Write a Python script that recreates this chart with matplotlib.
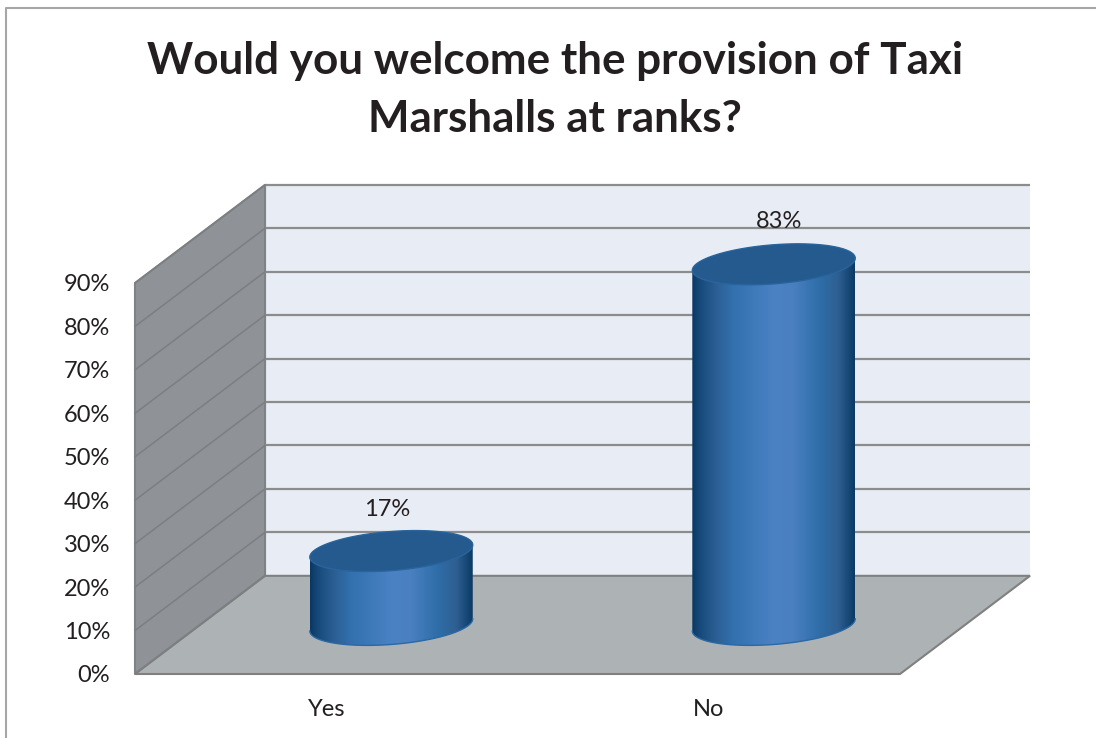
import matplotlib
matplotlib.use('Agg')
import matplotlib.pyplot as plt
import numpy as np
from matplotlib.colors import LinearSegmentedColormap
from matplotlib.lines import Line2D
from matplotlib.patches import Polygon

plt.rcParams['font.family'] = ['Lato', 'DejaVu Sans']

categories = ['Yes', 'No']
percentages = [17, 83]
y_ticks = [0, 10, 20, 30, 40, 50, 60, 70, 80, 90]
title = 'Would you welcome the provision of Taxi\nMarshalls at ranks?'

# depth of the fake 3D box, in data units (categories, percent)
DEPTH_X = 0.34
DEPTH_Y = 22.6
# cylinder shape: half width, half height of the cap, and tilt of the cap
RADIUS = 0.213
CAP_H = 4.5
CAP_TILT = 1.4
TEXT_COLOUR = '#231f20'

body_cmap = LinearSegmentedColormap.from_list('cylinder', [
    (0.00, '#0a3862'), (0.05, '#174a7c'), (0.15, '#2c5f94'), (0.25, '#3270ae'),
    (0.50, '#4a82c4'), (0.62, '#4a80c0'), (0.78, '#2f6ea9'), (0.90, '#2e5f92'),
    (1.00, '#0b3a64')])


def ellipse_points(cx, cy, t):
    return np.column_stack([cx + RADIUS * np.cos(t),
                            cy + CAP_H * np.sin(t) + CAP_TILT * np.cos(t)])


def draw_cylinder(ax, centre, value):
    base = DEPTH_Y / 2
    lower = ellipse_points(centre, base, np.linspace(np.pi, 2 * np.pi, 80))
    upper = ellipse_points(centre, base + value, np.linspace(0, np.pi, 80))
    body = Polygon(np.vstack([lower, upper]), closed=True, transform=ax.transData,
                   fc='none', ec='none', clip_on=False)
    ax.add_patch(body)

    gradient = np.linspace(0, 1, 256).reshape(1, -1)
    img = ax.imshow(gradient, cmap=body_cmap, aspect='auto', zorder=4,
                    extent=[centre - RADIUS, centre + RADIUS,
                            base - CAP_H - CAP_TILT, base + value + CAP_H + CAP_TILT])
    # the image reaches above the axes box, so clip to the figure and the body outline
    img.set_clip_path(body)
    img.set_clip_box(ax.figure.bbox)

    ax.plot(lower[:, 0], lower[:, 1], color='#2a68a6', lw=1.0, zorder=5, clip_on=False)
    cap = ellipse_points(centre, base + value, np.linspace(0, 2 * np.pi, 160))
    ax.add_patch(Polygon(cap, closed=True, fc='#245a8d', ec='#2a649c', lw=1.0,
                         zorder=6, clip_on=False))


fig = plt.figure(figsize=(10.96, 7.38), dpi=100, facecolor='white')
ax = fig.add_axes([135 / 1096, 64 / 738, 765 / 1096, 391 / 738])

top = y_ticks[-1]
n = len(categories)

# walls and floor
ax.add_patch(Polygon([(DEPTH_X, DEPTH_Y), (n + DEPTH_X, DEPTH_Y), (n + DEPTH_X, top + DEPTH_Y),
                      (DEPTH_X, top + DEPTH_Y)], fc='#e8edf5', ec='none', zorder=1, clip_on=False))
ax.add_patch(Polygon([(0, 0), (DEPTH_X, DEPTH_Y), (DEPTH_X, top + DEPTH_Y), (0, top)],
                     fc='#8f9296', ec='#808386', lw=1.5, zorder=2, clip_on=False))
ax.add_patch(Polygon([(0, 0), (n, 0), (n + DEPTH_X, DEPTH_Y), (DEPTH_X, DEPTH_Y)],
                     fc='#adb2b4', ec='#808080', lw=1.5, zorder=2, clip_on=False))

# gridlines run along the back wall and down the side wall
for v in y_ticks:
    if v > 0:
        ax.plot([DEPTH_X, n + DEPTH_X], [v + DEPTH_Y, v + DEPTH_Y], color='#8c8c8c', lw=1.6,
                zorder=3, clip_on=False, solid_capstyle='butt')
    ax.plot([0, DEPTH_X], [v, v + DEPTH_Y], color='#7c7f82', lw=1.1, zorder=3, clip_on=False)

label_shift = [-3, 4]
label_rise = [30, 31]
for i, value in enumerate(percentages):
    centre = i + 0.5 + DEPTH_X / 2
    draw_cylinder(ax, centre, value)
    ax.annotate('{}%'.format(value), (centre, value + DEPTH_Y / 2),
                xytext=(label_shift[i], label_rise[i]), textcoords='offset points',
                ha='center', va='center', fontsize=17, color=TEXT_COLOUR, zorder=7,
                annotation_clip=False)

ax.set_xlim(0, n)
ax.set_ylim(0, top)
ax.set_xticks([i + 0.5 for i in range(n)], categories)
ax.set_yticks(y_ticks, ['{}%'.format(v) for v in y_ticks])
ax.tick_params(axis='y', length=0, pad=18, labelsize=17, labelcolor=TEXT_COLOUR)
ax.tick_params(axis='x', length=0, pad=18, labelsize=17, labelcolor=TEXT_COLOUR)
for label in ax.get_yticklabels():
    label.set_va('center_baseline')
ax.patch.set_visible(False)
for spine in ax.spines.values():
    spine.set_visible(False)

fig.text(555 / 1096, 1 - 90 / 738, title, ha='center', va='center', fontsize=31.7,
         fontweight='bold', color=TEXT_COLOUR, linespacing=1.52)

# chart area border, only the top and left edges are inside the frame
fig.add_artist(Line2D([6 / 1096, 6 / 1096, 1], [0, 1 - 8 / 738, 1 - 8 / 738],
                      color='#a6a6a6', lw=1.5))

fig.savefig('out.png', dpi=100)
